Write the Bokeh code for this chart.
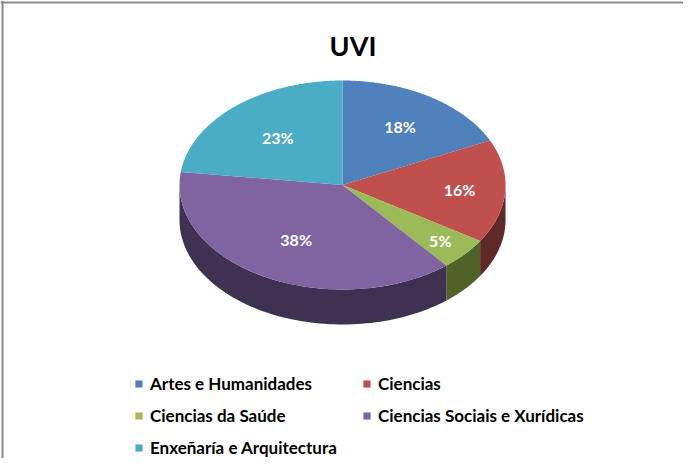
import numpy as np
from bokeh.plotting import figure
from bokeh.models import Range1d, Legend, LegendItem, Label, Span, ColumnDataSource
from bokeh.embed import file_html
from bokeh.resources import INLINE
from bokeh.core.properties import value

# ---- data ----
title_text = "UVI"
categories = ["Artes e Humanidades", "Ciencias", "Ciencias da Saúde",
              "Ciencias Sociais e Xurídicas", "Enxeñaría e Arquitectura"]
values = [18, 16, 5, 38, 23]

# ---- styles / layout ----
top_colors = ["#4F81BD", "#C0504D", "#9BBB59", "#8064A2", "#4BACC6"]
side_colors = ["#2C4D75", "#5E2928", "#4F6228", "#3F3151", "#215967"]
label_r = [0.66, 0.72, 0.80, 0.59, 0.60]

W, H = 683, 458
CX, CY, RX, RY, DEPTH = 342, 184.5, 163, 104.5, 35
FONT = "Lato"

p = figure(width=W, height=H, x_range=Range1d(0, W), y_range=Range1d(H, 0),
           output_backend="svg", toolbar_location=None, min_border=0,
           x_axis_location=None, y_axis_location=None)
p.grid.visible = False
p.outline_line_color = None
p.background_fill_color = "white"
p.border_fill_color = "white"

vals = np.array(values, dtype=float)
total = vals.sum()
ends = np.cumsum(vals) / total * 360.0
starts = np.concatenate([[0.0], ends[:-1]])


def ell(theta):
    t = np.radians(theta)
    return CX + RX * np.sin(t), CY - RY * np.cos(t)


# side walls (front half only)
wx, wy, wc = [], [], []
for a0, a1, c in zip(starts, ends, side_colors):
    lo, hi = max(a0, 90.0), min(a1, 270.0)
    if lo < hi:
        th = np.linspace(lo, hi, 80)
        x, y = ell(th)
        wx.append(list(x) + list(x[::-1]))
        wy.append(list(y) + list((y + DEPTH)[::-1]))
        wc.append(c)
p.patches(xs=wx, ys=wy, fill_color=wc, line_color=None)

# top faces
tx, ty = [], []
for a0, a1 in zip(starts, ends):
    th = np.linspace(a0, a1, max(int((a1 - a0) * 2), 4))
    x, y = ell(th)
    tx.append([CX] + list(x))
    ty.append([CY] + list(y))
src = ColumnDataSource(dict(xs=tx, ys=ty, color=top_colors, cat=categories))
tops = p.patches(xs="xs", ys="ys", fill_color="color", line_color=None, source=src)

# percentage labels
mids = (starts + ends) / 2
lx, ly = [], []
for m, r in zip(mids, label_r):
    t = np.radians(m)
    lx.append(CX + RX * r * np.sin(t))
    ly.append(CY - RY * r * np.cos(t))
pct = [f"{round(v / total * 100)}%" for v in vals]
p.text(x=lx, y=ly, text=pct, text_align="center", text_baseline="middle",
       text_color="white", text_font=value(FONT), text_font_style="bold",
       text_font_size="16px")

# title
p.add_layout(Label(x=352.5, y=45, text=title_text, text_align="center",
                   text_baseline="alphabetic", text_font=FONT,
                   text_font_style="bold", text_font_size="27px",
                   text_color="black"))

# chart border (left/top visible, rest cropped)
p.add_layout(Span(location=2, dimension="height", line_color="#898989", line_width=2))
p.add_layout(Span(location=2, dimension="width", line_color="#898989", line_width=2))

items = [LegendItem(label=categories[i], renderers=[tops], index=i)
         for i in range(len(categories))]
legend = Legend(items=items, location=(134, 0), orientation="horizontal", ncols=2,
                glyph_width=9, glyph_height=9, label_standoff=7, label_width=201,
                label_height=20, spacing=11, padding=0, margin=0,
                border_line_color=None, background_fill_alpha=0,
                label_text_font=FONT, label_text_font_style="bold",
                label_text_font_size="17px", label_text_color="black")
p.add_layout(legend)

open("out.html", "w").write(file_html(p, INLINE))
